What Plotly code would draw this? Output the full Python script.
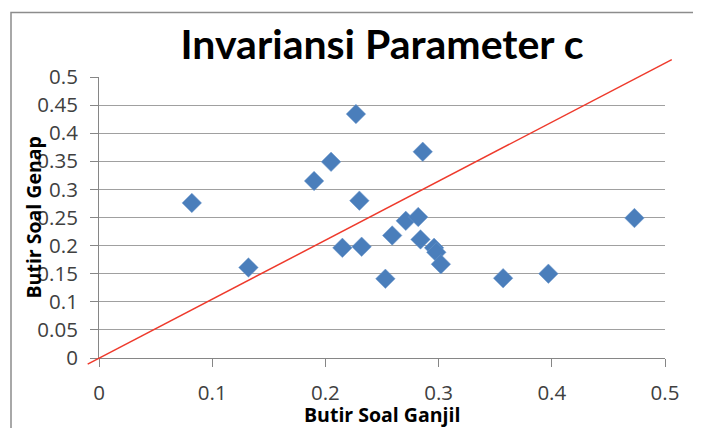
import plotly.graph_objects as go

# Data
ganjil = [0.082, 0.132, 0.190, 0.205, 0.227, 0.230, 0.215, 0.232, 0.253, 0.259,
          0.271, 0.282, 0.286, 0.284, 0.296, 0.298, 0.302, 0.357, 0.397, 0.473]
genap = [0.276, 0.161, 0.315, 0.349, 0.434, 0.280, 0.196, 0.198, 0.141, 0.218,
         0.244, 0.251, 0.367, 0.211, 0.196, 0.188, 0.167, 0.142, 0.150, 0.249]

line_x = [-0.010, 0.506]
line_y = [-0.011, 0.531]

tick_vals_x = [0, 0.1, 0.2, 0.3, 0.4, 0.5]
tick_text_x = ["0", "0.1", "0.2", "0.3", "0.4", "0.5"]
tick_vals_y = [0, 0.05, 0.1, 0.15, 0.2, 0.25, 0.3, 0.35, 0.4, 0.45, 0.5]
tick_text_y = ["0", "0.05", "0.1", "0.15", "0.2", "0.25", "0.3", "0.35", "0.4", "0.45", "0.5"]

x_range = [0, 0.5]
y_range = [0, 0.5]

# page body has an 8px margin, so the figure is drawn 8px in from the window corner
OFF = 8
W, H = 701 - OFF, 428 - OFF
# plot area in window pixels: x 99..665, y 77..358
ml = 99 - OFF
mt = 77 - OFF
mr = W - (665 - OFF)
mb = H - (358 - OFF)
pw, ph = W - ml - mr, H - mt - mb


def frac(v, r):
    return (v - r[0]) / (r[1] - r[0])


def wx(px):  # window x pixel -> paper fraction
    return (px - OFF - ml) / pw


def wy(py):  # window y pixel -> paper fraction
    return (H - mb - (py - OFF)) / ph


fig = go.Figure()
fig.add_trace(go.Scatter(
    x=ganjil, y=genap, mode="markers",
    marker=dict(symbol="diamond", size=15, color="#4A7EBB",
                line=dict(width=0.5, color="#6F98CC")),
    cliponaxis=False, showlegend=False,
))

# red reference line (extends slightly beyond plot area like the original)
fig.add_shape(type="line", xref="paper", yref="paper",
              x0=frac(line_x[0], x_range), y0=frac(line_y[0], y_range),
              x1=frac(line_x[1], x_range), y1=frac(line_y[1], y_range),
              line=dict(color="#EE3A2C", width=1.5), layer="above")

# outer chart border
fig.add_shape(type="rect", xref="paper", yref="paper",
              x0=wx(11), y0=-0.6, x1=1.5, y1=wy(12.5),
              line=dict(color="#8C8C8C", width=1.5), fillcolor="rgba(0,0,0,0)",
              layer="below")

tick_font = dict(family="Open Sans, sans-serif", size=20.5, color="#404040")
axis_title_font = dict(family="Open Sans, sans-serif", size=19.5, color="#000000")

fig.update_xaxes(range=x_range, tickvals=tick_vals_x, ticktext=tick_text_x,
                 showgrid=False, zeroline=False, showline=True,
                 linecolor="#868686", linewidth=1, ticks="outside", ticklen=8,
                 tickcolor="#868686", tickfont=tick_font, ticklabelstandoff=8,
                 fixedrange=True)
fig.update_yaxes(range=y_range, tickvals=tick_vals_y, ticktext=tick_text_y,
                 showgrid=True, gridcolor="#A0A0A0", gridwidth=1,
                 zeroline=False, showline=True,
                 linecolor="#868686", linewidth=1, ticks="outside", ticklen=8,
                 tickcolor="#868686", tickfont=tick_font, ticklabelstandoff=8,
                 fixedrange=True)

fig.add_annotation(text="<b>Butir Soal Ganjil</b>", xref="paper", yref="paper",
                   x=0.5, y=wy(414.5), showarrow=False, font=axis_title_font,
                   xanchor="center", yanchor="middle", borderpad=0)

fig.add_annotation(text="<b>Butir Soal Genap</b>", xref="paper", yref="paper",
                   x=wx(33), y=0.5, textangle=-90, showarrow=False,
                   font=axis_title_font, xanchor="center", yanchor="middle")

fig.update_layout(
    width=W, height=H,
    margin=dict(l=ml, r=mr, t=mt, b=mb, autoexpand=False),
    paper_bgcolor="white", plot_bgcolor="white",
    title=dict(text="<b>Invariansi Parameter c</b>", x=0.5, xref="paper",
               xanchor="center", y=1 - (45 - OFF) / H, yref="container",
               yanchor="middle",
               font=dict(family="Lato, sans-serif", size=41, color="#000000")),
    showlegend=False,
)

fig.write_html("out.html")
